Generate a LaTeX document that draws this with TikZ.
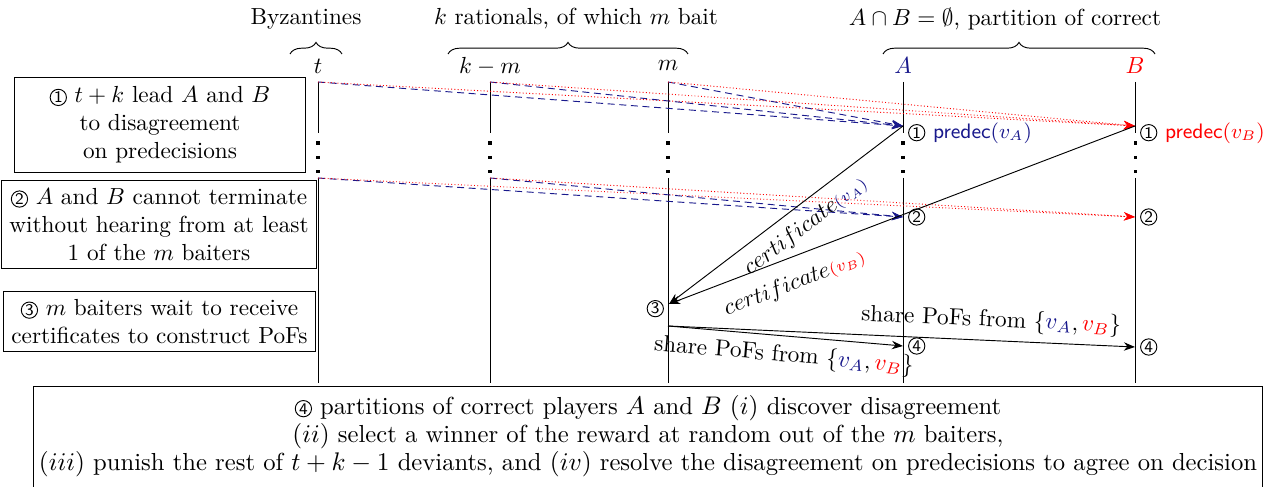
\documentclass[tikz,border=0pt]{standalone}
\usepackage{amsmath,amssymb}
\usepackage{xcolor}
\usepackage{tikz}
\usetikzlibrary{arrows.meta, positioning, decorations.pathreplacing}
\definecolor{darkblue}{rgb}{0.1,0.1,0.55}
\newcommand{\stepnum}[1]{\tikz[baseline=(sn.base)]\node[circle, draw, line width=0.4pt, inner sep=0pt, minimum size=7pt, font=\scriptsize\sffamily, text=black] (sn) {#1};}

\begin{document}
\begin{tikzpicture}[x=0.01512cm, y=-0.01512cm,
    notebox/.style={rectangle, draw, align=center},
    groupbrace/.style={decorate, decoration={brace, amplitude=5pt}},
    gapdots/.style={line width=1.3pt, dash pattern=on 1.3pt off 4.9pt},
    bluemsg/.style={-Stealth, densely dashed, darkblue},
    redmsg/.style={-Stealth, densely dotted, red},
    plainmsg/.style={-Stealth},
    stepmark/.style={inner sep=2pt}]
  \useasboundingbox (0,0) rectangle (1270,487);
  \node (byz) at (306,19) {Byzantines};
  \node (rat) at (576,19) {$k$ rationals, of which $m$ bait};
  \node (cor) at (1005,19) {$A\cap B=\emptyset$, partition of correct};
  \draw[groupbrace] (290,54) -- (342,54);
  \draw[groupbrace] (448,54) -- (688,54);
  \draw[groupbrace] (883,54) -- (1155,54);
  \node (th) at (318,66) {$t$};
  \node (kmh) at (490,66) {$k-m$};
  \node (mh) at (668,66) {$m$};
  \node[text=darkblue] (ah) at (903,66) {$A$};
  \node[text=red] (bh) at (1135,66) {$B$};
  \foreach \c/\x in {t/318, km/490, m/668, a/903, b/1135} {
    \coordinate (\c-top) at (\x,82);
    \coordinate (\c-mid) at (\x,178);
    \draw (\c-top) -- (\x,133);
    \draw[gapdots] (\x,141.5) -- (\x,174);
    \draw (\c-mid) -- (\x,383);
  }
  \coordinate (a1) at (903,126);
  \coordinate (b1) at (1135,126);
  \coordinate (a2) at (903,217);
  \coordinate (b2) at (1135,217);
  \coordinate (m3) at (669,304);
  \coordinate (m4) at (668,326);
  \coordinate (a4) at (903,346);
  \coordinate (b4) at (1135,347);
  \foreach \c in {t, km, m} {
    \draw[bluemsg] (\c-top) -- (a1);
    \draw[redmsg] (\c-top) -- (b1);
  }
  \foreach \c in {t, km} {
    \draw[bluemsg] (\c-mid) -- (a2);
    \draw[redmsg] (\c-mid) -- (b2);
  }
  \draw[plainmsg] (a1) -- (m3) node[pos=0.47, below=1pt, sloped] {$certificate{\scriptstyle\color{darkblue}(v_A)}$};
  \draw[plainmsg] (b1) -- (m3) node[pos=0.75, below=3pt, sloped] {$certificate{\scriptstyle\color{red}(v_B)}$};
  \draw[plainmsg] (m4) -- (a4) node[midway, below, sloped] {share PoFs from $\{\textcolor{darkblue}{v_A},\textcolor{red}{v_B}\}$};
  \draw[plainmsg] (m4) -- (b4) node[pos=0.69, above, sloped] {share PoFs from $\{\textcolor{darkblue}{v_A},\textcolor{red}{v_B}\}$};
  \node[stepmark, anchor=west, yshift=-3pt] (a1n) at (a1) {\stepnum{1} \textcolor{darkblue}{\small\textsf{predec}$(v_A)$}};
  \node[stepmark, anchor=west, yshift=-3pt] (b1n) at (b1) {\stepnum{1} \textcolor{red}{\small\textsf{predec}$(v_B)$}};
  \node[stepmark, anchor=west] (a2n) at (a2) {\stepnum{2}};
  \node[stepmark, anchor=west] (b2n) at (b2) {\stepnum{2}};
  \node[stepmark, anchor=east, yshift=-2pt] (m3n) at (m3) {\stepnum{3}};
  \node[stepmark, anchor=west] (a4n) at (a4) {\stepnum{4}};
  \node[stepmark, anchor=west] (b4n) at (b4) {\stepnum{4}};
  \node[notebox, minimum width=125pt, minimum height=41pt] (n1) at (160,125) {\stepnum{1} $t+k$ lead $A$ and $B$\\ to disagreement\\ on predecisions};
  \node[notebox] (n2) at (159,224.5) {\stepnum{2} $A$ and $B$ cannot terminate\\ without hearing from at least\\ 1 of the $m$ baiters};
  \node[notebox] (n3) at (159.5,321.5) {\stepnum{3} $m$ baiters wait to receive\\ certificates to construct PoFs};
  \node[align=center, inner xsep=2pt, font=\fontsize{10.6}{12.2}\selectfont] (n4) at (648,436) {\stepnum{4} partitions of correct players $A$ and $B$ $(i)$ discover disagreement\\ $(ii)$ select a winner of the reward at random out of the $m$ baiters,\\ $(iii)$ punish the rest of $t+k-1$ deviants, and $(iv)$ resolve the disagreement on predecisions to agree on decision};
  \draw ([yshift=-6pt]n4.south west) |- (n4.north east) -- ([yshift=-6pt]n4.south east);
\end{tikzpicture}
\end{document}
